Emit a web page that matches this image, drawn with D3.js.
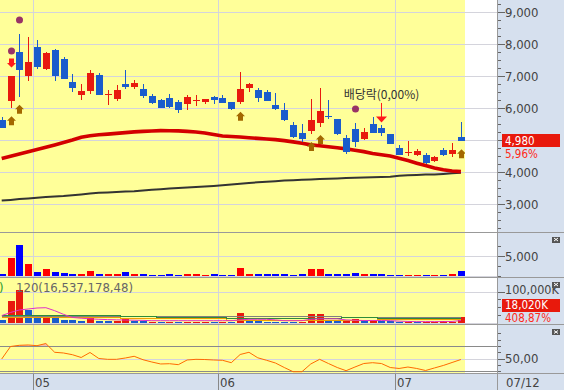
<!DOCTYPE html>
<head>
   <title>Daily candle chart</title>
   <meta charset="utf-8">
   <script src="https://d3js.org/d3.v7.min.js"></script>
   <style>
      body { margin: 0; background: #ffffff; }
      text {
         font-family: "Liberation Sans Narrow", "DejaVu Sans Condensed", "Liberation Sans", sans-serif;
         font-size: 13px;
         fill: #444444;
      }
      text.note {
         font-family: "Noto Sans CJK KR", "Noto Sans", sans-serif;
         font-size: 12px;
         fill: #333333;
      }
      text.valueLabel { font-size: 11.5px; }
      .tick line { stroke: #666666; shape-rendering: crispEdges; }
      .tick text { fill: #444444; font-size: 13px; }
      .amtAxis .tick text { font-size: 12.5px; }
      path.domain { display: none; }
      line.grid { stroke: #d4d4dc; shape-rendering: crispEdges; }
      line.sep { stroke: #999999; shape-rendering: crispEdges; }
      rect { shape-rendering: crispEdges; }
   </style>
</head>

<body>
   <script>
      // ---- data ----
      const monthLabels = ['05', '06', '07'];
      const monthStart = [4, 25, 45];   // index of first candle of each month
      const lastDate = '07/12';

      const open  = [5620, 6230, 7750, 7000, 7910, 7210, 7810, 7530, 6810, 6410, 6530, 7030, 6410, 6280, 6750, 6660, 6590, 6380, 6250, 6310, 6190, 6130, 6220, 6190, 6340, 6310, 6190, 6190, 6630, 6560, 6500, 6090, 5940, 5470, 5220, 5280, 5530, 5750, 5660, 5060, 5340, 5030, 5500, 5380, 5190, 4740, 4590, 4530, 4530, 4350, 4690, 4560, 5100];
      const high  = [5730, 7000, 8310, 8220, 8130, 7750, 7840, 7590, 7060, 6750, 7190, 7090, 6560, 6720, 7190, 6880, 6750, 6440, 6280, 6440, 6250, 6410, 6410, 6280, 6380, 6410, 6190, 7130, 6780, 6630, 6560, 6470, 6160, 5560, 5500, 6280, 6630, 6250, 5660, 5160, 5530, 5380, 5720, 5470, 5190, 4840, 4970, 4710, 4590, 4500, 4740, 4920, 5560];
      const low   = [5370, 5990, 6350, 6850, 7230, 7190, 6850, 6920, 6500, 6250, 6440, 6410, 6090, 6220, 6590, 6590, 6310, 6130, 6000, 6000, 5840, 5940, 6060, 6130, 6130, 6160, 5940, 6130, 6500, 6190, 6220, 5940, 5590, 5060, 4950, 5190, 5410, 5660, 5160, 4560, 4790, 5000, 5220, 5130, 4880, 4530, 4500, 4500, 4240, 4300, 4510, 4460, 4960];
      const close = [5370, 7000, 7190, 7440, 7290, 7720, 7000, 6920, 6620, 6530, 7090, 6410, 6440, 6560, 6660, 6780, 6380, 6160, 6000, 6030, 5940, 6340, 6250, 6280, 6250, 6160, 5970, 6590, 6750, 6310, 6220, 5970, 5630, 5090, 5030, 5630, 5910, 5720, 5190, 4630, 4920, 5260, 5220, 5220, 4880, 4530, 4630, 4670, 4270, 4480, 4530, 4700, 4980];

      const maRed   = [4419, 4491, 4562, 4634, 4700, 4772, 4844, 4919, 5000, 5088, 5131, 5162, 5184, 5206, 5231, 5253, 5269, 5281, 5294, 5291, 5284, 5269, 5250, 5219, 5172, 5125, 5109, 5094, 5072, 5050, 5031, 5012, 4981, 4941, 4897, 4847, 4819, 4791, 4759, 4722, 4681, 4637, 4581, 4541, 4500, 4428, 4356, 4275, 4200, 4128, 4069, 4031, 4012];
      const maBlack = [3106, 3128, 3153, 3175, 3197, 3216, 3234, 3250, 3275, 3300, 3325, 3350, 3362, 3375, 3387, 3400, 3422, 3444, 3462, 3481, 3500, 3519, 3534, 3550, 3566, 3584, 3606, 3631, 3656, 3678, 3697, 3712, 3731, 3744, 3756, 3766, 3778, 3788, 3800, 3809, 3819, 3828, 3837, 3847, 3853, 3884, 3900, 3909, 3919, 3925, 3941, 3959, 3975];

      const volume = [500, 4600, 7800, 3060, 950, 1700, 950, 700, 500, 500, 1200, 500, 500, 500, 950, 500, 500, 250, 250, 500, 250, 500, 500, 250, 500, 250, 250, 2040, 500, 500, 500, 500, 500, 250, 500, 1700, 1700, 500, 500, 500, 800, 500, 500, 500, 250, 250, 250, 250, 250, 250, 250, 500, 1200];

      const amount   = [9000, 71000, 105500, 41000, 16100, 17400, 17400, 8700, 8700, 6500, 15200, 6500, 6500, 6500, 16100, 6500, 6500, 3200, 3200, 3200, 3200, 3200, 3200, 3200, 3200, 3200, 3200, 31300, 6500, 6500, 3200, 3200, 3200, 3200, 3200, 28000, 28000, 6500, 6500, 6500, 11000, 6500, 6500, 6500, 6500, 3200, 3200, 3200, 3200, 3200, 6500, 3541.2, 18020];
      const amountUp = [0, 1, 1, 0, 0, 1, 0, 0, 0, 0, 1, 0, 0, 1, 1, 0, 0, 1, 0, 1, 0, 1, 1, 1, 0, 1, 0, 1, 0, 0, 0, 0, 0, 0, 1, 1, 1, 0, 0, 1, 1, 0, 1, 0, 0, 0, 1, 0, 1, 1, 1, 1, 1];
      const amtMaPink   = [23000, 33000, 41000, 44200, 47400, 48400, 38700, 27000, 17000, 14500, 12500, 11000, 10000, 9200, 8700, 8000, 7500, 6500, 6500, 6500, 6500, 6500, 6500, 6500, 6500, 6500, 6500, 9000, 11000, 11000, 11000, 9000, 6500, 6500, 6500, 11000, 12500, 12500, 12500, 9000, 8000, 7000, 7000, 7000, 6500, 5000, 4000, 3500, 3500, 3500, 3500, 4000, 7000];
      const amtMaGreen  = [25800, 25800, 25800, 25800, 25800, 25800, 25800, 25800, 25800, 25800, 25800, 25800, 25800, 25800, 20600, 20600, 20600, 20600, 17400, 17400, 17400, 17400, 17400, 17400, 17400, 17400, 14200, 14200, 14200, 14200, 14200, 14200, 14200, 14200, 14200, 14200, 14200, 14200, 14200, 17400, 17400, 17400, 17400, 15000, 15000, 15000, 15000, 15000, 15000, 15000, 15000, 15000, 15000];
      const amtMaGrey   = [22600, 22600, 22600, 22600, 22600, 22600, 22600, 22600, 22600, 22600, 22600, 22600, 22600, 22600, 22600, 22600, 22600, 22600, 22600, 22600, 22600, 22600, 22600, 22600, 22600, 22600, 21600, 21600, 21600, 21600, 21600, 21600, 21600, 21600, 21600, 21600, 21600, 21600, 21600, 19000, 19000, 19000, 19000, 17000, 17000, 17000, 17000, 17000, 17000, 17000, 17000, 17000, 17000];
      const amtMaOrange = [19400, 19400, 19400, 19400, 19400, 19400, 19400, 19400, 19400, 19400, 19400, 19400, 19400, 19400, 16000, 16000, 16000, 16000, 16000, 16000, 16000, 16000, 16000, 16000, 16000, 16000, 8700, 8700, 8700, 8700, 8700, 8700, 8700, 8700, 8700, 8700, 8700, 8700, 8700, 8700, 8700, 8700, 8700, 11000, 11000, 11000, 11000, 11000, 11000, 11000, 11000, 11000, 11000];
      const amtTitle = '120(16,537,178,48)';

      const rsi = [49.5, 69.2, 71.1, 71.6, 70.5, 73.9, 60.1, 59.0, 56.3, 51.9, 59.8, 50.3, 49.0, 49.0, 51.1, 53.8, 48.4, 44.8, 41.7, 42.1, 40.6, 48.0, 49.0, 48.7, 48.0, 47.5, 43.7, 56.6, 60.1, 51.4, 47.5, 43.2, 36.1, 29.5, 29.5, 41.7, 49.0, 42.4, 36.1, 31.1, 36.9, 42.4, 43.7, 42.4, 36.1, 34.6, 36.9, 34.6, 31.4, 35.4, 39.3, 44.0, 48.7];

      const buySignals = [1, 2, 27, 35, 36, 52];
      const sellSignals = [1];
      const dotSignals = [1, 2, 40];
      const dividendIdx = 43;
      const dividendText = '배당락(0,00%)';

      const priceTicks = [3000, 4000, 5000, 6000, 7000, 8000, 9000];
      const volTicks = [5000];
      const amtTicks = [100000];
      const rsiTicks = [50];
      const rsiLevels = [30, 70];

      // ---- layout ----
      const width = 564, height = 390;
      const plotEdge = 465;     // yellow area ends here
      const axisX = 497.5;      // right axis border
      const RED = '#e81a0e', BLUE = '#1a5ccc';

      const svg = d3.select('body').append('svg')
         .attr('width', width)
         .attr('height', height);
      const defs = svg.append('defs');

      const panels = [
         { top: 0, bottom: 232 },
         { top: 233, bottom: 277 },
         { top: 278, bottom: 324 },
         { top: 325, bottom: 373 }
      ];

      const x = d3.scaleLinear().domain([0, close.length - 1]).range([1.7, 460.9]);
      const priceY = d3.scaleLinear().domain([3000, 9000]).range([204, 12]);
      const volY = d3.scaleLinear().domain([0, 5000]).range([275.7, 256]);
      const amtY = d3.scaleLinear().domain([0, 100000]).range([322.7, 291.7]);
      const rsiY = d3.scaleLinear().domain([30, 70]).range([371.4, 346]);

      const idx = d3.range(close.length);
      const px = i => Math.round(x(i));
      const last = close.length - 1;

      // backgrounds
      panels.forEach(p => {
         svg.append('rect').attr('x', 0).attr('y', p.top).attr('width', plotEdge).attr('height', p.bottom - p.top)
            .attr('fill', '#ffff99');
      });
      svg.append('rect').attr('x', axisX).attr('y', 0).attr('width', width - axisX).attr('height', height)
         .attr('fill', '#d6e0ee');
      svg.append('rect').attr('x', 0).attr('y', 374).attr('width', width).attr('height', height - 374)
         .attr('fill', '#d6e0ee');

      // horizontal grid
      const hGrid = (scale, vals) => {
         svg.append('g').selectAll('line').data(vals).join('line')
            .attr('class', 'grid')
            .attr('x1', 0).attr('x2', axisX)
            .attr('y1', d => Math.round(scale(d)) + 0.5)
            .attr('y2', d => Math.round(scale(d)) + 0.5);
      };
      hGrid(priceY, priceTicks);
      hGrid(volY, [0].concat(volTicks));
      hGrid(amtY, [0].concat(amtTicks));
      hGrid(rsiY, rsiTicks);

      // month grid lines
      const monthX = monthStart.map(m => Math.round(x(m - 0.5)) + 0.5);
      svg.append('g').selectAll('line').data(monthX).join('line')
         .attr('class', 'grid')
         .attr('x1', d => d).attr('x2', d => d)
         .attr('y1', 0).attr('y2', 373);

      // RSI levels
      svg.append('g').selectAll('line').data(rsiLevels).join('line')
         .attr('x1', 0).attr('x2', axisX)
         .attr('y1', d => Math.round(rsiY(d)) + 0.5)
         .attr('y2', d => Math.round(rsiY(d)) + 0.5)
         .attr('stroke', '#8a8a8a')
         .style('shape-rendering', 'crispEdges');

      // ---- price panel ----
      defs.append('clipPath').attr('id', 'priceClip')
         .append('rect').attr('x', 0).attr('y', 0).attr('width', plotEdge).attr('height', 232);

      const pricePlot = svg.append('g').attr('clip-path', 'url(#priceClip)');

      const lineOf = (scale, arr) => d3.line().x(i => x(i)).y(i => scale(arr[i]))(idx);

      pricePlot.append('path')
         .attr('d', lineOf(priceY, maBlack))
         .attr('fill', 'none').attr('stroke', '#333333').attr('stroke-width', 2);

      pricePlot.append('path')
         .attr('d', lineOf(priceY, maRed))
         .attr('fill', 'none').attr('stroke', '#d30000').attr('stroke-width', 3.6);

      const candles = pricePlot.append('g');
      candles.selectAll('line').data(idx).join('line')
         .attr('x1', i => px(i) + 0.5).attr('x2', i => px(i) + 0.5)
         .attr('y1', i => priceY(high[i])).attr('y2', i => priceY(low[i]))
         .attr('stroke', i => close[i] >= open[i] ? RED : BLUE)
         .style('shape-rendering', 'crispEdges');
      candles.selectAll('rect').data(idx).join('rect')
         .attr('x', i => px(i) - 3)
         .attr('width', 7)
         .attr('y', i => Math.round(priceY(Math.max(open[i], close[i]))))
         .attr('height', i => Math.max(1, Math.round(Math.abs(priceY(open[i]) - priceY(close[i])))))
         .attr('fill', i => close[i] >= open[i] ? RED : BLUE);

      // signals
      pricePlot.append('g').selectAll('path').data(buySignals).join('path')
         .attr('d', i => {
            const c = px(i) + 0.5, t = priceY(low[i]) + 8;
            return `M${c},${t}L${c + 4.5},${t + 4.5}L${c + 2.5},${t + 4.5}L${c + 2.5},${t + 9}L${c - 2.5},${t + 9}L${c - 2.5},${t + 4.5}L${c - 4.5},${t + 4.5}Z`;
         })
         .attr('fill', '#a36800');

      pricePlot.append('g').selectAll('path').data(sellSignals).join('path')
         .attr('d', i => {
            const c = px(i) + 0.5, t = priceY(high[i]) - 8.5;
            return `M${c},${t}L${c - 4.5},${t - 4.5}L${c - 2.5},${t - 4.5}L${c - 2.5},${t - 9}L${c + 2.5},${t - 9}L${c + 2.5},${t - 4.5}L${c + 4.5},${t - 4.5}Z`;
         })
         .attr('fill', '#ff1a1a');

      pricePlot.append('g').selectAll('circle').data(dotSignals).join('circle')
         .attr('cx', i => px(i) + 0.5)
         .attr('cy', i => priceY(high[i]) - 14 - (sellSignals.includes(i) ? 11 : 0))
         .attr('r', 3.5)
         .attr('fill', '#993366');

      // dividend marker
      const dc = px(dividendIdx) + 0.5, dt = priceY(high[dividendIdx]) - 2.5;
      pricePlot.append('line')
         .attr('x1', dc).attr('x2', dc).attr('y1', dt - 19.5).attr('y2', dt - 5)
         .attr('stroke', '#ff1a1a');
      pricePlot.append('path')
         .attr('d', `M${dc},${dt}L${dc - 5.5},${dt - 6}L${dc + 5.5},${dt - 6}Z`)
         .attr('fill', '#ff1a1a');
      pricePlot.append('text')
         .attr('class', 'note')
         .attr('x', dc)
         .attr('y', dt - 23.5)
         .style('text-anchor', 'middle')
         .text(dividendText);

      // ---- volume panel ----
      svg.append('g').selectAll('rect').data(idx).join('rect')
         .attr('x', i => px(i) - 3)
         .attr('width', 7)
         .attr('y', i => Math.round(volY(volume[i])))
         .attr('height', i => Math.round(volY(0)) - Math.round(volY(volume[i])))
         .attr('fill', i => close[i] >= open[i] ? '#ff0000' : '#0000ff');

      // ---- trading value panel ----
      svg.append('g').selectAll('rect').data(idx).join('rect')
         .attr('x', i => px(i) - 3)
         .attr('width', 7)
         .attr('y', i => Math.round(amtY(amount[i])))
         .attr('height', i => Math.max(1, Math.round(amtY(0)) - Math.round(amtY(amount[i]))))
         .attr('fill', i => amountUp[i] ? RED : BLUE);

      const stepLine = (arr) => d3.line().curve(d3.curveStep).x(i => x(i)).y(i => Math.round(amtY(arr[i])) + 0.5)(idx);
      [[amtMaOrange, '#f0a000'], [amtMaGrey, '#808080'], [amtMaGreen, '#2e8b3a']].forEach(([arr, col]) => {
         svg.append('path').attr('d', stepLine(arr))
            .attr('fill', 'none').attr('stroke', col).attr('stroke-width', 1)
            .style('shape-rendering', 'crispEdges');
      });
      svg.append('path').attr('d', lineOf(amtY, amtMaPink))
         .attr('fill', 'none').attr('stroke', '#e030c8').attr('stroke-width', 1);

      svg.append('text').attr('x', -1).attr('y', 292).style('fill', '#2a9a2a').text(')');
      svg.append('text').attr('x', 16).attr('y', 292).style('fill', '#666666').text(amtTitle);

      // ---- RSI panel ----
      defs.append('clipPath').attr('id', 'rsiHigh')
         .append('rect').attr('x', 0).attr('y', 325).attr('width', plotEdge).attr('height', rsiY(70) - 325);
      svg.append('path')
         .attr('d', d3.area().x(i => x(i)).y0(rsiY(70)).y1(i => rsiY(rsi[i]))(idx))
         .attr('fill', '#f8bca8')
         .attr('clip-path', 'url(#rsiHigh)');
      svg.append('path')
         .attr('d', lineOf(rsiY, rsi))
         .attr('fill', 'none').attr('stroke', '#ff6a00').attr('stroke-width', 1);

      // panel separators and axis border
      svg.append('g').selectAll('line').data([232.5, 277.5, 324.5, 373.5]).join('line')
         .attr('class', 'sep')
         .attr('x1', 0).attr('x2', width).attr('y1', d => d).attr('y2', d => d);
      svg.append('line').attr('class', 'sep')
         .attr('x1', axisX).attr('x2', axisX).attr('y1', 0).attr('y2', height);

      // ---- right axes ----
      const comma = d3.format(',');
      const rightAxis = (scale, major, minor, fmt, cls, hideNear) => {
         svg.append('g').attr('transform', `translate(${axisX},0)`)
            .call(d3.axisRight(scale).tickValues(minor).tickSize(3).tickFormat(''));
         // labels covered by the current-value box are not shown
         const shown = d => (hideNear === undefined || Math.abs(scale(d) - hideNear) > 9) ? fmt(d) : '';
         svg.append('g').attr('class', cls).attr('transform', `translate(${axisX},0)`)
            .call(d3.axisRight(scale).tickValues(major).tickSize(7).tickPadding(0.5).tickFormat(shown));
      };
      rightAxis(priceY, priceTicks, d3.range(2250, 9300, 250).filter(v => v % 1000 !== 0), comma, 'priceAxis', priceY(close[last]));
      rightAxis(volY, volTicks, [0, 2500, 7500], comma, 'volAxis');
      rightAxis(amtY, amtTicks, [25000, 50000, 75000], d => comma(d) + 'K', 'amtAxis');
      rightAxis(rsiY, rsiTicks, [30, 40, 60, 70, 80, 90], d => d.toFixed(2).replace('.', ','), 'rsiAxis');
      svg.selectAll('.amtAxis .tick text').attr('dy', '0.15em');

      // current value boxes
      const valueBox = (centerY, bottom, label, pct) => {
         let boxC = centerY, pctC = centerY + 13.2;
         if (pctC > bottom - 5.8) { const s = pctC - (bottom - 5.8); boxC -= s; pctC -= s; }
         svg.append('rect').attr('x', 502).attr('y', Math.round(boxC - 6.5)).attr('width', 58).attr('height', 13)
            .attr('fill', '#e8190c');
         svg.append('text').attr('class', 'valueLabel').attr('x', 505).attr('y', boxC).attr('dy', '0.36em')
            .style('fill', '#ffffff').text(label);
         svg.append('text').attr('class', 'valueLabel').attr('x', 505).attr('y', pctC).attr('dy', '0.36em')
            .style('fill', '#ff2a1a').text(pct);
      };
      const pctFmt = (a, b) => ((a - b) / b * 100).toFixed(2).replace('.', ',') + '%';
      valueBox(priceY(close[last]), 232, comma(close[last]), pctFmt(close[last], close[last - 1]));
      valueBox(amtY(amount[last]), 324, comma(amount[last]) + 'K', pctFmt(amount[last], amount[last - 1]));

      // panel close buttons
      [236.5, 281.5, 329].forEach(y0 => {
         svg.append('rect').attr('x', 552).attr('y', y0).attr('width', 8).attr('height', 6).attr('fill', '#555555');
         svg.append('path').attr('d', `M${554},${y0 + 1.5}L${558},${y0 + 4.5}M${558},${y0 + 1.5}L${554},${y0 + 4.5}`)
            .attr('stroke', '#ffffff').attr('stroke-width', 1);
      });

      // ---- date strip ----
      svg.append('g').selectAll('line').data(monthX).join('line')
         .attr('x1', d => d).attr('x2', d => d).attr('y1', 374).attr('y2', height)
         .attr('stroke', '#888888').style('shape-rendering', 'crispEdges');
      svg.append('g').selectAll('text').data(monthLabels).join('text')
         .attr('x', (d, k) => monthX[k] + 1.5)
         .attr('y', 382.5).attr('dy', '0.36em')
         .text(d => d);
      svg.append('text').attr('x', 506).attr('y', 382.5).attr('dy', '0.36em').text(lastDate);
   </script>
</body>
